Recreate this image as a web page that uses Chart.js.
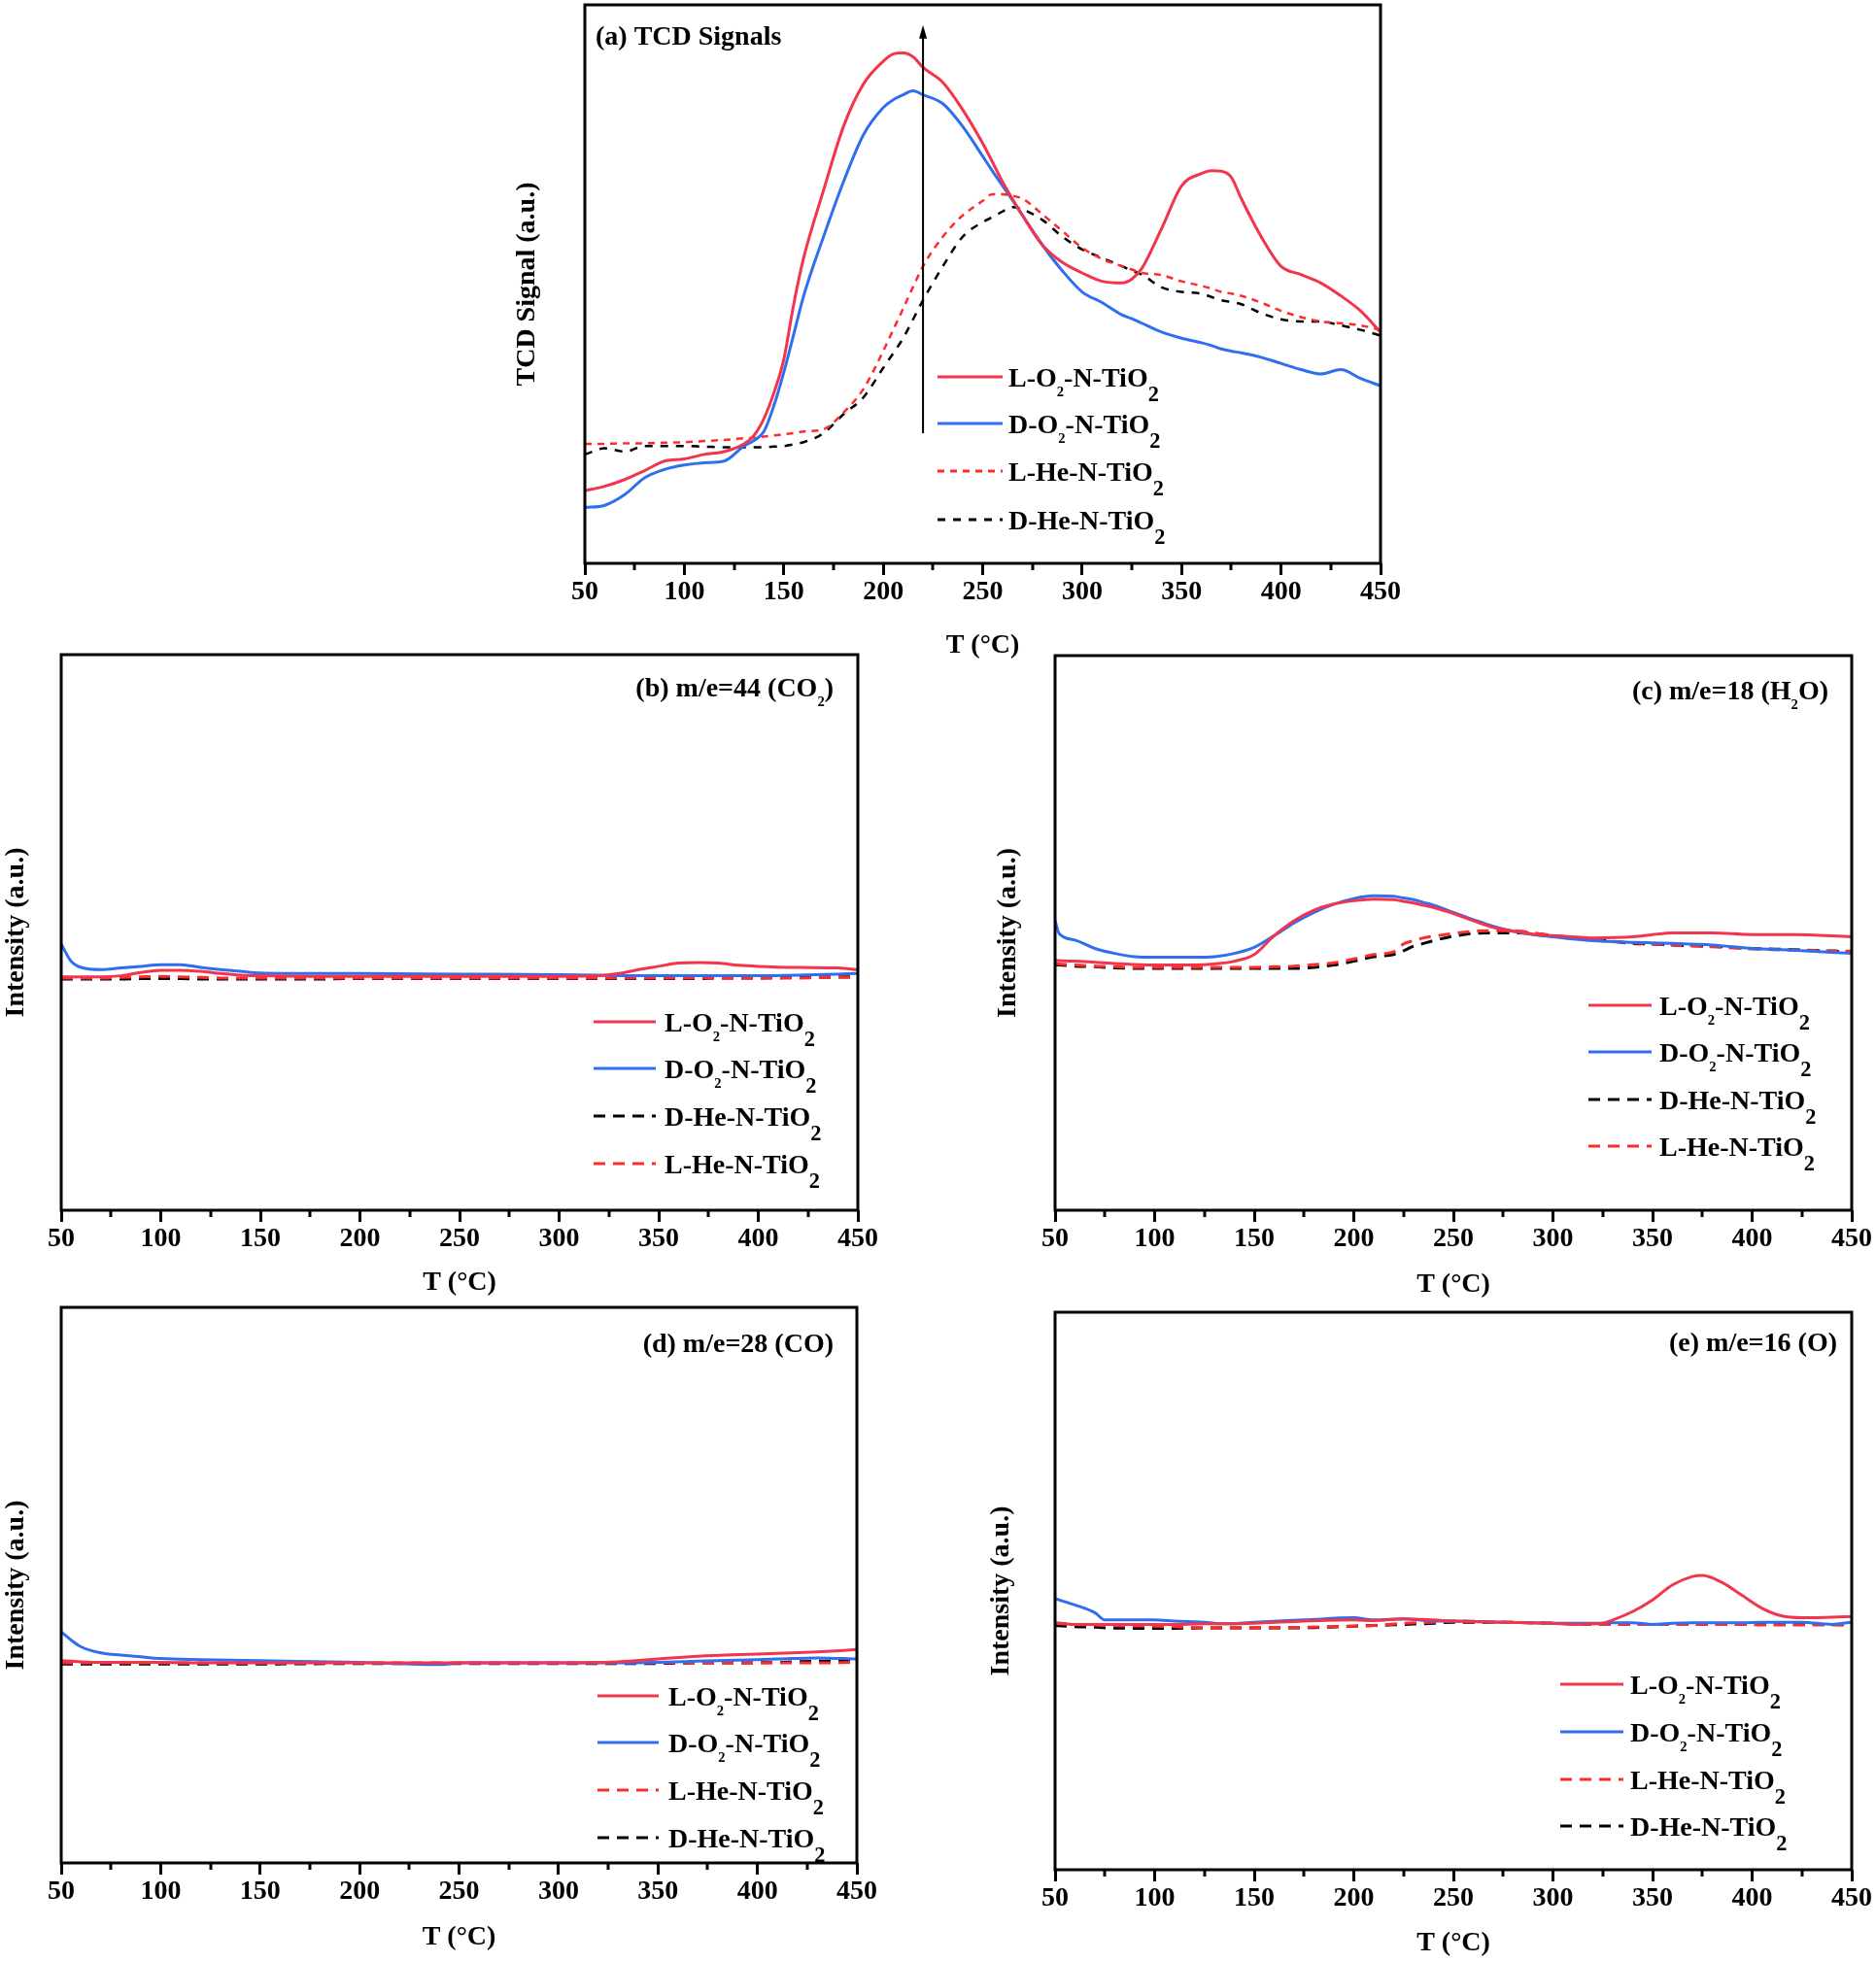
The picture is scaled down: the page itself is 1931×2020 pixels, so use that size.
<!DOCTYPE html>
<html>
<head>
<meta charset="utf-8">
<script src="https://cdn.jsdelivr.net/npm/chart.js@4.4.1/dist/chart.umd.min.js"></script>
<style>
  html, body { margin: 0; padding: 0; background: #fff; }
  body { width: 1931px; height: 2020px; position: relative; overflow: hidden; }
  canvas { position: absolute; }
</style>
</head>
<body>
<canvas id="ca" width="931" height="685" style="left:520px;top:0px"></canvas>
<canvas id="cb" width="913" height="681" style="left:0px;top:660px"></canvas>
<canvas id="cc" width="920" height="683" style="left:1010px;top:660px"></canvas>
<canvas id="cd" width="912" height="685" style="left:0px;top:1330px"></canvas>
<canvas id="ce" width="920" height="688" style="left:1010px;top:1330px"></canvas>
<script>
var FONT = "'Liberation Serif', 'Times New Roman', serif";
var C_LO2 = '#f2354d', C_DO2 = '#2f6fef', C_LHE = '#ff2b2b', C_DHE = '#000000';
var NAME_LO2 = 'L-O₂-N-TiO₂', NAME_DO2 = 'D-O₂-N-TiO₂', NAME_LHE = 'L-He-N-TiO₂', NAME_DHE = 'D-He-N-TiO₂';

var xMajor = [50, 100, 150, 200, 250, 300, 350, 400, 450];
var xMinor = [75, 125, 175, 225, 275, 325, 375, 425];

// (a) TCD signals
var aT = [50,60,70,80,90,100,110,120,130,135,140,145,150,155,160,170,180,190,200,205,210,215,220,230,240,250,255,260,265,270,280,290,300,310,320,325,330,340,350,360,365,370,375,380,390,400,410,420,430,440,450];
var aLO2 = [13.0,13.8,15.0,16.6,18.3,18.7,19.5,20.0,21.4,22.9,25.9,30.5,36.5,46.4,54.7,66.8,78.2,85.8,89.9,91.2,91.4,90.7,88.8,86.1,81.2,75.2,71.8,68.3,65.2,62.3,57.0,53.9,52.0,50.5,50.2,50.9,52.8,60.0,67.6,69.8,70.3,70.2,69.1,65.3,58.5,53.2,51.7,50.2,47.9,45.2,41.4];
var aDO2 = [10.0,10.4,12.3,15.3,16.8,17.6,18.0,18.3,21.0,22.0,23.6,28.2,34.2,41.0,47.9,58.5,68.3,76.7,81.6,83.0,83.9,84.6,83.9,82.3,78.2,72.9,70.2,67.6,65.0,62.3,57.0,52.4,48.6,46.7,44.5,43.8,43.0,41.4,40.3,39.5,39.0,38.4,38.0,37.7,36.9,35.8,34.7,33.9,34.7,33.1,31.8];
var aLHe = [21.4,21.4,21.5,21.5,21.6,21.7,21.9,22.1,22.4,22.5,22.7,22.9,23.1,23.3,23.6,24.0,27.0,31.2,38.0,41.8,45.6,49.5,53.2,58.5,62.3,64.9,66.1,66.1,65.8,65.3,62.5,59.5,56.5,54.5,53.2,52.6,52.0,51.6,50.5,49.7,49.2,48.6,48.3,47.9,46.7,45.2,44.1,43.3,43.0,42.6,41.8];
var aDHe = [19.5,20.6,20.0,21.0,21.0,21.0,20.9,20.8,20.8,20.8,20.8,20.9,21.0,21.3,21.7,23.3,26.7,29.7,35.0,37.6,40.3,43.7,47.1,53.2,58.5,61.1,62.0,63.0,63.8,63.4,61.5,58.5,56.2,54.7,53.2,52.4,51.7,49.4,48.6,48.3,47.7,47.1,46.8,46.4,44.8,43.7,43.3,43.3,42.6,41.8,40.8];
var arrowT = 220, arrowFrom = 23.3, arrowTo = 96.4;

// (b) m/e=44
var bT = [50,55,60,70,80,90,100,110,120,130,140,150,175,200,250,300,320,330,340,350,360,370,380,390,400,420,440,450];
var bDO2 = [47.9,44.8,43.7,43.3,43.6,43.9,44.2,44.2,43.7,43.3,43.0,42.7,42.6,42.6,42.5,42.4,42.3,42.2,42.2,42.2,42.2,42.2,42.2,42.2,42.2,42.3,42.5,42.6];
var bLO2 = [42.0,42.0,42.0,42.0,42.2,42.8,43.2,43.2,43.0,42.6,42.3,42.2,42.1,42.1,42.1,42.1,42.2,42.6,43.3,43.9,44.5,44.6,44.5,44.1,43.9,43.7,43.6,43.3];
var bDHe = [41.6,41.6,41.6,41.6,41.6,41.7,41.7,41.7,41.6,41.6,41.6,41.6,41.6,41.7,41.7,41.7,41.7,41.7,41.7,41.7,41.7,41.7,41.8,41.8,41.8,41.9,42.0,42.0];
var bLHe = [41.8,41.8,41.8,41.8,41.9,42.0,42.1,42.0,41.9,41.8,41.8,41.8,41.8,41.8,41.8,41.8,41.8,41.8,41.8,41.8,41.8,41.8,41.8,41.8,41.8,41.8,41.9,41.9];

// (c) m/e=18
var cT = [50,52,60,70,80,90,100,120,130,140,150,160,170,180,190,200,210,220,225,230,235,240,250,260,270,280,290,300,310,320,340,350,360,380,400,420,450];
var cDO2 = [52.2,49.9,48.7,47.2,46.3,45.7,45.6,45.6,45.7,46.3,47.4,49.5,51.8,53.7,55.2,56.2,56.7,56.6,56.3,56.0,55.5,55.0,53.7,52.4,51.2,50.3,49.7,49.3,48.9,48.6,48.3,48.2,48.1,47.8,47.2,46.9,46.3];
var cLO2 = [45.1,45.0,44.9,44.7,44.5,44.3,44.2,44.2,44.4,44.9,46.1,49.5,52.2,54.1,55.2,55.8,56.1,56.0,55.7,55.4,55.0,54.6,53.5,52.2,51.0,50.3,49.8,49.5,49.3,49.1,49.3,49.7,50.0,50.0,49.7,49.7,49.3];
var cDHe = [44.2,44.2,44.0,43.9,43.7,43.6,43.6,43.6,43.6,43.6,43.6,43.6,43.6,43.8,44.2,44.9,45.7,46.1,46.8,47.6,48.1,48.6,49.4,49.9,50.0,50.0,49.9,49.5,49.2,48.9,48.1,48.0,47.8,47.6,47.2,47.0,46.6];
var cLHe = [44.5,44.4,44.2,44.0,43.9,43.8,43.8,43.8,43.8,43.8,43.8,43.9,44.0,44.3,44.6,45.3,46.1,46.6,48.0,48.6,49.1,49.4,49.9,50.3,50.4,50.4,50.0,49.5,49.1,48.7,48.2,48.0,47.8,47.5,47.1,46.9,46.7];

// (d) m/e=28
var dT = [50,55,60,70,80,90,100,120,150,200,240,250,300,330,350,370,390,410,430,450];
var dDO2 = [41.6,40.1,38.9,37.8,37.4,37.1,36.8,36.6,36.4,36.1,35.7,36.0,36.0,36.0,36.1,36.3,36.5,36.7,36.9,36.7];
var dLO2 = [36.4,36.3,36.2,36.1,36.1,36.1,36.1,36.0,36.0,36.0,36.0,36.0,36.0,36.2,36.7,37.2,37.5,37.7,38.0,38.4];
var dLHe = [36.0,36.0,36.0,36.0,36.0,36.0,36.0,36.0,36.0,36.0,36.0,36.0,36.0,36.0,36.0,36.0,36.0,36.0,36.0,36.1];
var dDHe = [35.8,35.8,35.8,35.8,35.8,35.8,35.8,35.8,35.8,35.9,35.9,35.9,35.9,35.9,35.9,36.0,36.0,36.1,36.3,36.4];

// (e) m/e=16
var eT = [50,60,70,75,100,110,125,135,150,175,200,210,225,240,250,275,300,310,325,330,340,350,360,370,375,385,395,405,415,425,440,450];
var eDO2 = [48.6,47.5,46.1,44.8,44.8,44.6,44.4,44.1,44.4,44.8,45.2,44.8,45.0,44.6,44.6,44.4,44.2,44.2,44.2,44.3,44.3,44.0,44.2,44.3,44.3,44.3,44.3,44.4,44.4,44.4,44.0,44.4];
var eLO2 = [44.2,44.0,44.0,44.0,44.0,44.0,44.1,44.1,44.2,44.6,44.8,44.7,45.0,44.8,44.6,44.4,44.2,44.0,44.2,44.8,46.3,48.4,51.1,52.6,52.8,51.5,49.2,46.9,45.5,45.2,45.3,45.4];
var eLHe = [44.3,44.0,43.9,43.8,43.7,43.6,43.4,43.4,43.4,43.5,43.7,43.8,44.2,44.4,44.6,44.4,44.2,44.1,44.0,44.0,44.0,44.0,44.0,44.0,44.0,44.0,44.0,43.9,43.9,43.9,43.9,43.8];
var eDHe = [43.8,43.6,43.5,43.4,43.3,43.3,43.4,43.4,43.4,43.4,43.7,43.8,44.0,44.2,44.4,44.4,44.2,44.1,44.0,44.0,44.0,44.0,44.0,44.0,44.0,44.0,44.0,44.0,44.0,44.0,44.0,44.0];

function pts(xs, ys) { return xs.map(function (x, i) { return { x: x, y: ys[i] }; }); }

// draw text where ₂ becomes a lowered small "2"
function drawRich(ctx, s, x, y, size, align) {
  var parts = [], buf = '';
  for (var i = 0; i < s.length; i++) {
    if (s[i] === '₂') {
      if (buf) parts.push({ t: buf });
      buf = '';
      parts.push({ t: '2', sub: true, last: i === s.length - 1 });
    } else buf += s[i];
  }
  if (buf) parts.push({ t: buf });
  function fnt(p) {
    var sz = p.sub ? (p.last ? size * 0.8 : size * 0.52) : size;
    return 'bold ' + sz.toFixed(1) + 'px ' + FONT;
  }
  var w = 0;
  parts.forEach(function (p) { ctx.font = fnt(p); p.w = ctx.measureText(p.t).width; w += p.w; });
  var cx = align === 'right' ? x - w : x;
  ctx.textAlign = 'left'; ctx.textBaseline = 'alphabetic'; ctx.fillStyle = '#000';
  parts.forEach(function (p) {
    ctx.font = fnt(p);
    var dy = p.sub ? (p.last ? size * 0.55 : size * 0.36) : 0;
    ctx.fillText(p.t, cx, y + dy);
    cx += p.w;
  });
}

var decor = {
  id: 'decor',
  afterDatasetsDraw: function (c, args, o) {
    var ctx = c.ctx, a = c.chartArea, xs = c.scales.x, ys = c.scales.y;
    ctx.save();
    // arrow
    if (o.arrow) {
      var ax = xs.getPixelForValue(o.arrow.x), y0 = ys.getPixelForValue(o.arrow.from), y1 = ys.getPixelForValue(o.arrow.to);
      ctx.strokeStyle = '#000'; ctx.lineWidth = 2;
      ctx.beginPath(); ctx.moveTo(ax, y0); ctx.lineTo(ax, y1 + 10); ctx.stroke();
      ctx.fillStyle = '#000';
      ctx.beginPath(); ctx.moveTo(ax, y1); ctx.lineTo(ax - 4, y1 + 14); ctx.lineTo(ax + 4, y1 + 14); ctx.closePath(); ctx.fill();
    }
    // frame
    ctx.strokeStyle = '#000'; ctx.lineWidth = 3; ctx.setLineDash([]);
    ctx.strokeRect(a.left, a.top, a.right - a.left, a.bottom - a.top);
    // minor ticks
    ctx.lineWidth = 3;
    xMinor.forEach(function (v) {
      var px = Math.round(xs.getPixelForValue(v));
      ctx.beginPath(); ctx.moveTo(px, a.bottom); ctx.lineTo(px, a.bottom + 7); ctx.stroke();
    });
    // panel title
    var t = o.title;
    if (t.align === 'left') drawRich(ctx, t.text, a.left + t.dx, a.top + t.dy, 28, 'left');
    else drawRich(ctx, t.text, a.right + t.dx, a.top + t.dy, 28, 'right');
    // legend
    var L = o.legend;
    L.order.forEach(function (di, k) {
      var ds = c.data.datasets[di];
      var lx = a.left + L.dx, ly = a.top + L.rows[k];
      ctx.strokeStyle = ds.borderColor; ctx.lineWidth = 3;
      ctx.setLineDash(ds.borderDash || []);
      ctx.beginPath(); ctx.moveTo(lx, ly); ctx.lineTo(lx + L.len, ly); ctx.stroke();
      ctx.setLineDash([]);
      drawRich(ctx, ds.label, lx + L.len + L.gap, ly + 10, 28, 'left');
    });
    ctx.restore();
  }
};

function series(T, lo2, do2, lhe, dhe, dashR, dashK, w, wd) {
  return [
    { label: NAME_LO2, data: pts(T, lo2), borderColor: C_LO2, borderWidth: w },
    { label: NAME_DO2, data: pts(T, do2), borderColor: C_DO2, borderWidth: w },
    { label: NAME_LHE, data: pts(T, lhe), borderColor: C_LHE, borderWidth: wd, borderDash: dashR },
    { label: NAME_DHE, data: pts(T, dhe), borderColor: C_DHE, borderWidth: wd, borderDash: dashK }
  ];
}

function panel(id, p) {
  var bold = { family: FONT, size: 28, weight: 'bold' };
  new Chart(document.getElementById(id), {
    type: 'line',
    data: { datasets: p.datasets },
    plugins: [decor],
    options: {
      responsive: false, animation: false, devicePixelRatio: 1,
      layout: { padding: { left: 0, top: p.padTop, right: p.padRight, bottom: 0 } },
      elements: { point: { radius: 0 }, line: { cubicInterpolationMode: 'monotone', fill: false } },
      plugins: {
        legend: { display: false }, tooltip: { enabled: false },
        decor: { title: p.title, legend: p.legend, arrow: p.arrow }
      },
      scales: {
        x: {
          type: 'linear', min: 50, max: 450,
          afterBuildTicks: function (s) { s.ticks = xMajor.map(function (v) { return { value: v }; }); },
          ticks: { color: '#000', font: bold, padding: 1, maxRotation: 0, autoSkip: false },
          grid: { drawOnChartArea: false, drawTicks: true, tickLength: 12, tickWidth: 3, tickColor: '#000' },
          border: { display: false },
          title: { display: true, text: 'T (°C)', color: '#000', font: bold, padding: { top: 0, bottom: p.xTitlePad } },
          afterFit: function (s) { s.height = p.xh; s.paddingLeft = 0; s.paddingRight = 0; }
        },
        y: {
          min: 0, max: 100,
          ticks: { display: false },
          grid: { display: false },
          border: { display: false },
          title: { display: true, text: p.yTitle, color: '#000', font: bold, padding: { top: p.yTitlePad, bottom: 0 } },
          afterFit: function (s) { s.width = p.yw; }
        }
      }
    }
  });
}

panel('ca', {
  datasets: series(aT, aLO2, aDO2, aLHe, aDHe, [7, 6], [8, 8], 3, 2.5),
  padTop: 5, padRight: 30, xh: 105, yw: 82, xTitlePad: 3, yTitlePad: 6,
  yTitle: 'TCD Signal (a.u.)',
  title: { text: '(a) TCD Signals', align: 'left', dx: 11, dy: 41 },
  legend: { order: [0, 1, 2, 3], dx: 363, len: 67, gap: 6, rows: [383, 431, 480, 530] },
  arrow: { x: arrowT, from: arrowFrom, to: arrowTo }
});
panel('cb', {
  datasets: series(bT, bLO2, bDO2, bLHe, bDHe, [12, 8], [12, 8], 3, 3),
  padTop: 14, padRight: 30, xh: 95, yw: 63, xTitlePad: 3, yTitlePad: 0,
  yTitle: 'Intensity (a.u.)',
  title: { text: '(b) m/e=44 (CO₂)', align: 'right', dx: -25, dy: 43 },
  legend: { order: [0, 1, 3, 2], dx: 548, len: 64, gap: 9, rows: [378, 426, 475, 524] }
});
panel('cc', {
  datasets: series(cT, cLO2, cDO2, cLHe, cDHe, [12, 8], [12, 8], 3, 3),
  padTop: 15, padRight: 24, xh: 97, yw: 76, xTitlePad: 3, yTitlePad: 11,
  yTitle: 'Intensity (a.u.)',
  title: { text: '(c) m/e=18 (H₂O)', align: 'right', dx: -24, dy: 45 },
  legend: { order: [0, 1, 3, 2], dx: 549, len: 65, gap: 8, rows: [360, 408, 457, 505] }
});
panel('cd', {
  datasets: series(dT, dLO2, dDO2, dLHe, dDHe, [12, 8], [12, 8], 3, 3),
  padTop: 16, padRight: 30, xh: 97, yw: 63, xTitlePad: 3, yTitlePad: 0,
  yTitle: 'Intensity (a.u.)',
  title: { text: '(d) m/e=28 (CO)', align: 'right', dx: -24, dy: 46 },
  legend: { order: [0, 1, 2, 3], dx: 552, len: 63, gap: 10, rows: [400, 448, 497, 546] }
});
panel('ce', {
  datasets: series(eT, eLO2, eDO2, eLHe, eDHe, [12, 8], [12, 8], 3, 3),
  padTop: 21, padRight: 24, xh: 93, yw: 76, xTitlePad: 0, yTitlePad: 4,
  yTitle: 'Intensity (a.u.)',
  title: { text: '(e) m/e=16 (O)', align: 'right', dx: -15, dy: 40 },
  legend: { order: [0, 1, 2, 3], dx: 520, len: 65, gap: 7, rows: [383, 432, 481, 529] }
});
</script>
</body>
</html>
